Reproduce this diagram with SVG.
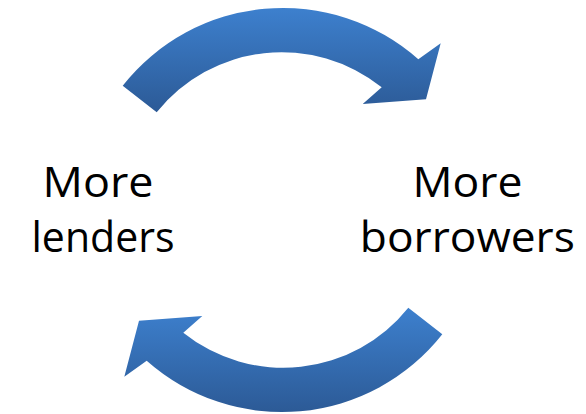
<svg xmlns="http://www.w3.org/2000/svg" width="586" height="414" viewBox="0 0 586 414">
  <style>
    .label { font-family: "Open Sans", "Liberation Sans", sans-serif; font-size: 42px; fill: #000000; text-anchor: middle; }
    .cycle-arrow { fill: url(#arrowFill); stroke: none; }
  </style>
  <defs>
    <linearGradient id="arrowFill" x1="0" y1="0" x2="0" y2="1">
      <stop offset="0" stop-color="#3D80CE"/>
      <stop offset="1" stop-color="#2C5A96"/>
    </linearGradient>
  </defs>

  <rect width="586" height="414" fill="#FFFFFF"/>

  <!-- curved block arrows closing the loop between the two labels -->
  <g id="connectors">
    <!-- upper arc: lenders -> borrowers (centre 283,212; radii 204 / 160) -->
    <path id="arrow-lenders-to-borrowers" class="cycle-arrow"
          d="M 122.7 85.7 A 204 204 0 0 1 418.3 59.3 L 440.7 43.3 L 426 99.3 L 362.7 104 L 381.7 87.3 A 160 160 0 0 0 156.7 112.3 Z"/>
    <!-- lower arc: borrowers -> lenders (centre 282,208; radii 204 / 160) -->
    <path id="arrow-borrowers-to-lenders" class="cycle-arrow"
          d="M 442.3 334.3 A 204 204 0 0 1 146.7 360.7 L 124.3 376.7 L 139 320.7 L 202.3 316 L 183.3 332.7 A 160 160 0 0 0 408.3 307.7 Z"/>
  </g>

  <g id="node-lenders">
    <text class="label" x="98" y="197" textLength="111" lengthAdjust="spacingAndGlyphs">More</text>
    <text class="label" x="103" y="252" textLength="143" lengthAdjust="spacingAndGlyphs">lenders</text>
  </g>

  <g id="node-borrowers">
    <text class="label" x="467.5" y="197" textLength="110" lengthAdjust="spacingAndGlyphs">More</text>
    <text class="label" x="467.3" y="252" textLength="215" lengthAdjust="spacingAndGlyphs">borrowers</text>
  </g>
</svg>
